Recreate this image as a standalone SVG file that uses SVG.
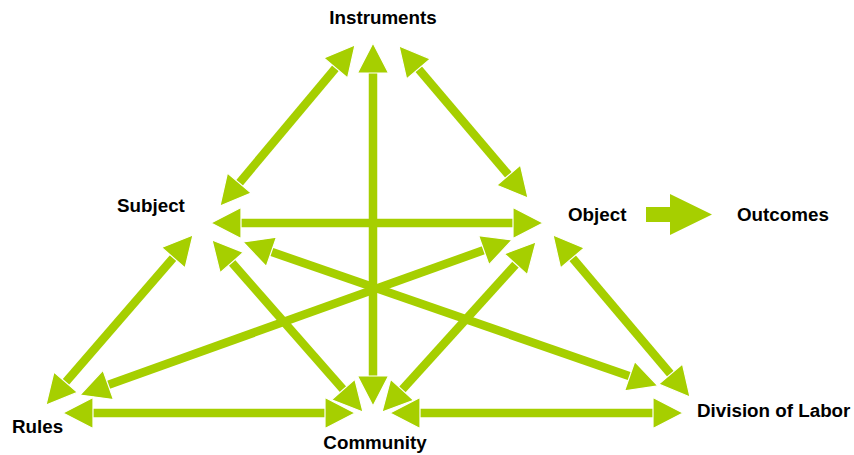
<svg xmlns="http://www.w3.org/2000/svg" xmlns:xlink="http://www.w3.org/1999/xlink" width="854" height="455" viewBox="0 0 854 455">
<style>
.lbl{font-family:"Liberation Sans",Arial,sans-serif;font-weight:bold;font-size:18.8px;fill:#000}
.sh{stroke:#A6CF00;stroke-width:8.5;fill:none}
.hd{fill:#A6CF00;stroke:#fff;stroke-width:1.2;stroke-linejoin:miter}
</style>
<defs>
<polygon id="h" class="hd" points="0,0 30,-15.5 30,15.5"/>
</defs>
<rect width="854" height="455" fill="#fff"/>
<g id="connectors">
<g transform="translate(373 43) rotate(90)"><line class="sh" x1="20" y1="0" x2="343" y2="0"/><use xlink:href="#h"/><use xlink:href="#h" transform="translate(363 0) rotate(180)"/></g>
<g transform="translate(211 223) rotate(0)"><line class="sh" x1="20" y1="0" x2="312" y2="0"/><use xlink:href="#h"/><use xlink:href="#h" transform="translate(332 0) rotate(180)"/></g>
<g transform="translate(243 242) rotate(19.13)"><line class="sh" x1="20" y1="0" x2="419.3" y2="0"/><use xlink:href="#h"/><use xlink:href="#h" transform="translate(439.3 0) rotate(180)"/></g>
<g transform="translate(512 240) rotate(160.26)"><line class="sh" x1="20" y1="0" x2="439" y2="0"/><use xlink:href="#h"/><use xlink:href="#h" transform="translate(459 0) rotate(180)"/></g>
<g transform="translate(355 45) rotate(129.98)"><line class="sh" x1="20" y1="0" x2="190.1" y2="0"/><use xlink:href="#h"/><use xlink:href="#h" transform="translate(210.1 0) rotate(180)"/></g>
<g transform="translate(399 46) rotate(49.68)"><line class="sh" x1="20" y1="0" x2="179.4" y2="0"/><use xlink:href="#h"/><use xlink:href="#h" transform="translate(199.4 0) rotate(180)"/></g>
<g transform="translate(212 240) rotate(48.72)"><line class="sh" x1="20" y1="0" x2="208.9" y2="0"/><use xlink:href="#h"/><use xlink:href="#h" transform="translate(228.9 0) rotate(180)"/></g>
<g transform="translate(193 235) rotate(130.85)"><line class="sh" x1="20" y1="0" x2="204.7" y2="0"/><use xlink:href="#h"/><use xlink:href="#h" transform="translate(224.7 0) rotate(180)"/></g>
<g transform="translate(536 242) rotate(132.17)"><line class="sh" x1="20" y1="0" x2="209.4" y2="0"/><use xlink:href="#h"/><use xlink:href="#h" transform="translate(229.4 0) rotate(180)"/></g>
<g transform="translate(553 235) rotate(49.78)"><line class="sh" x1="20" y1="0" x2="192.2" y2="0"/><use xlink:href="#h"/><use xlink:href="#h" transform="translate(212.2 0) rotate(180)"/></g>
<g transform="translate(63 413) rotate(0)"><line class="sh" x1="20" y1="0" x2="272" y2="0"/><use xlink:href="#h"/><use xlink:href="#h" transform="translate(292 0) rotate(180)"/></g>
<g transform="translate(390 413) rotate(0)"><line class="sh" x1="20" y1="0" x2="273" y2="0"/><use xlink:href="#h"/><use xlink:href="#h" transform="translate(293 0) rotate(180)"/></g>
<polygon fill="#A6CF00" points="646,207 670,207 670,194 712,214.5 670,235 670,222 646,222"/>
</g>
<g id="instruments"><text class="lbl" x="383" y="24" text-anchor="middle">Instruments</text></g>
<g id="subject"><text class="lbl" x="117" y="212">Subject</text></g>
<g id="object"><text class="lbl" x="568" y="221">Object</text></g>
<g id="outcomes"><text class="lbl" x="737" y="221">Outcomes</text></g>
<g id="rules"><text class="lbl" x="12" y="433">Rules</text></g>
<g id="community"><text class="lbl" x="375" y="449" text-anchor="middle">Community</text></g>
<g id="division"><text class="lbl" x="697" y="417">Division of Labor</text></g>
</svg>
